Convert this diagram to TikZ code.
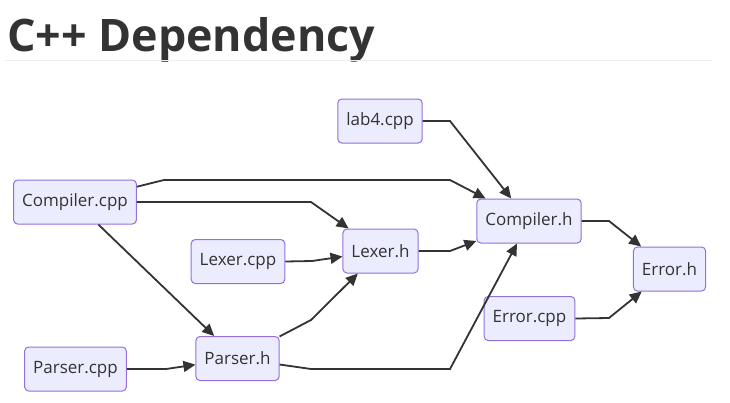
\documentclass[tikz,border=0pt]{standalone}
\usepackage{fontspec}
\setmainfont{Open Sans}
\usetikzlibrary{
    arrows.meta,           % Modern arrow tips
    backgrounds            % Background layers
}
\definecolor{nodefill}{HTML}{ECECFF}
\definecolor{nodeline}{HTML}{9370DB}
\definecolor{edgeline}{HTML}{333333}
\definecolor{ruleline}{HTML}{EEEEEE}

\begin{document}
\begin{tikzpicture}[x=1pt,y=-1pt,
    file/.style={draw=nodeline,fill=nodefill,rounded corners=4pt,line width=1pt,
        minimum height=44pt,inner xsep=8.5pt,text=edgeline,
        font=\fontsize{17}{20}\selectfont},
    dep/.style={draw=edgeline,line width=1.8pt,
        -{Triangle[length=12pt,width=11pt]}}]
    \useasboundingbox[fill=white] (0,0) rectangle (730,402);
    % title
    \node[anchor=base west,inner sep=0pt,text=edgeline,
        font=\fontsize{44.8}{50}\selectfont\bfseries] (title) at (7,51) {C++ Dependency};
    \draw[ruleline,line width=1pt] (5,60) -- (712,60);
    % files
    \node[file] (compcpp) at (75,202)   {Compiler.cpp};
    \node[file] (lexcpp)  at (238,261.5) {Lexer.cpp};
    \node[file] (parcpp)  at (75.5,369) {Parser.cpp};
    \node[file] (parh)    at (237.5,358.5) {Parser.h};
    \node[file] (lab)     at (380,121)  {lab4.cpp};
    \node[file] (lexh)    at (380.5,251) {Lexer.h};
    \node[file] (comph)   at (529,221)  {Compiler.h};
    \node[file] (errh)    at (669.5,269) {Error.h};
    \node[file] (errcpp)  at (529.5,318.5) {Error.cpp};
    % includes
    \draw[dep] (compcpp) -- (164,180) -- (450,180) -- (comph);
    \draw[dep] (compcpp.east) -- (311,202) -- (lexh);
    \draw[dep] (compcpp) -- (parh);
    \draw[dep] (lexcpp.east) -- (312,261) -- (lexh);
    \draw[dep] (parh) -- (311,320) -- (lexh);
    \draw[dep] (parcpp.east) -- (166,369) -- (parh);
    \draw[dep] (parh) -- (311,369) -- (450,369) -- (comph);
    \draw[dep] (lab.east) -- (450,121) -- (comph);
    \draw[dep] (lexh.east) -- (450,251) -- (comph);
    \draw[dep] (comph.east) -- (609,221) -- (errh);
    \draw[dep] (errcpp.east) -- (609,318) -- (errh);
\end{tikzpicture}
\end{document}
